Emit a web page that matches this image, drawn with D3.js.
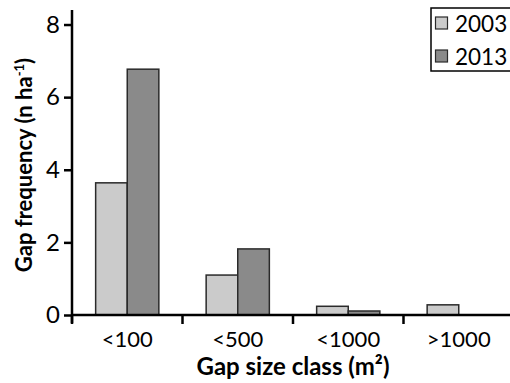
<!DOCTYPE html>
<html>
<head>
<meta charset="utf-8">
<script src="https://cdn.jsdelivr.net/npm/d3@7"></script>
<style>
  body { margin: 0; background: #fff; }
  svg { display: block; font-family: Lato, "Open Sans", sans-serif; }
</style>
</head>
<body>
<div id="chart-area"></div>
<script>
// data
var classes = ["<100", "<500", "<1000", ">1000"];
var years = ["2003", "2013"];
var values2003 = [3.64, 1.10, 0.24, 0.28];
var values2013 = [6.77, 1.82, 0.11, 0];
var yTicks = [0, 2, 4, 6, 8];
var colors = ["#cbcbcb", "#8a8a8a"];

var width = 510, height = 383;
var margin = { left: 72, top: 10, bottom: 68 };

var svg = d3.select("#chart-area")
    .append("svg")
    .attr("width", width)
    .attr("height", height);

var rows = classes.map(function(c, i) {
    return { cls: c, vals: [values2003[i], values2013[i]] };
});

// Scales
var x = d3.scaleBand().domain(classes).range([margin.left, 514]).padding(0);
var y = d3.scaleLinear().domain([0, 8.4]).range([height - margin.bottom, margin.top]);
var barW = 31.6;
var xs = d3.scaleBand().domain(years).range([-barW, barW]);

// Bars
var groups = svg.selectAll(".grp")
    .data(rows)
    .enter().append("g")
    .attr("class", "grp")
    .attr("transform", function(d) { return "translate(" + (x(d.cls) + x.bandwidth() / 2) + ",0)"; });

groups.selectAll("rect")
    .data(function(d) { return d.vals.map(function(v, j) { return { year: years[j], v: v, j: j }; }); })
    .enter().append("rect")
    .filter(function(d) { return d.v > 0; })
    .attr("x", function(d) { return xs(d.year); })
    .attr("width", xs.bandwidth())
    .attr("y", function(d) { return y(d.v); })
    .attr("height", function(d) { return y(0) - y(d.v); })
    .attr("fill", function(d) { return colors[d.j]; })
    .attr("stroke", "#2a2a2a")
    .attr("stroke-width", 1.5);

// Y-axis
var yAxis = svg.append("g")
    .attr("transform", "translate(" + margin.left + ",0)")
    .call(d3.axisLeft(y).tickValues(yTicks).tickSize(8).tickPadding(4).tickSizeOuter(0));
yAxis.select(".domain").attr("stroke", "#000").attr("stroke-width", 2.5)
    .attr("d", "M0," + margin.top + "V" + (y(0) + 8));
yAxis.selectAll(".tick line").attr("stroke", "#000").attr("stroke-width", 2.5);
yAxis.selectAll(".tick text").attr("font-size", "24px").attr("fill", "#000")
    .attr("font-family", "Lato, sans-serif");

// X-axis
var xAxis = svg.append("g")
    .attr("transform", "translate(0," + y(0) + ")")
    .call(d3.axisBottom(x).tickSize(0));
xAxis.select(".domain").attr("stroke", "#000").attr("stroke-width", 2.5)
    .attr("d", "M" + margin.left + ",0H" + width);
xAxis.selectAll(".tick text").attr("font-size", "22px").attr("fill", "#000")
    .attr("y", 32).attr("dy", 0)
    .attr("font-family", "Lato, sans-serif");
// tick marks at band edges
xAxis.selectAll(".edge")
    .data(classes)
    .enter().append("line")
    .attr("class", "edge")
    .attr("x1", function(d) { return x(d); })
    .attr("x2", function(d) { return x(d); })
    .attr("y1", 0).attr("y2", 9)
    .attr("stroke", "#000").attr("stroke-width", 2.5);

// Labels
svg.append("text")
    .attr("x", 293).attr("y", 375)
    .attr("text-anchor", "middle")
    .attr("font-size", "24px").attr("font-weight", "bold")
    .text("Gap size class (m²)");

var yl = svg.append("text")
    .attr("transform", "translate(32,165) rotate(-90)")
    .attr("text-anchor", "middle")
    .attr("font-size", "22px").attr("font-weight", "bold");
yl.append("tspan").text("Gap frequency (n ha");
yl.append("tspan").attr("font-size", "13px").attr("dy", -8).text("-1");
yl.append("tspan").attr("dy", 8).text(")");

// Legend
var leg = svg.append("g");
leg.append("rect")
    .attr("x", 431).attr("y", 8).attr("width", 90).attr("height", 63)
    .attr("fill", "#fff").attr("stroke", "#000").attr("stroke-width", 1.5);
var li = leg.selectAll(".li")
    .data(years)
    .enter().append("g")
    .attr("transform", function(d, i) { return "translate(0," + (i * 33) + ")"; });
li.append("rect")
    .attr("x", 435.5).attr("y", 17).attr("width", 12).attr("height", 12)
    .attr("fill", function(d, i) { return colors[i]; })
    .attr("stroke", "#2a2a2a").attr("stroke-width", 1.2);
li.append("text")
    .attr("x", 455).attr("y", 32)
    .attr("font-size", "22.5px")
    .text(function(d) { return d; });
</script>
</body>
</html>
